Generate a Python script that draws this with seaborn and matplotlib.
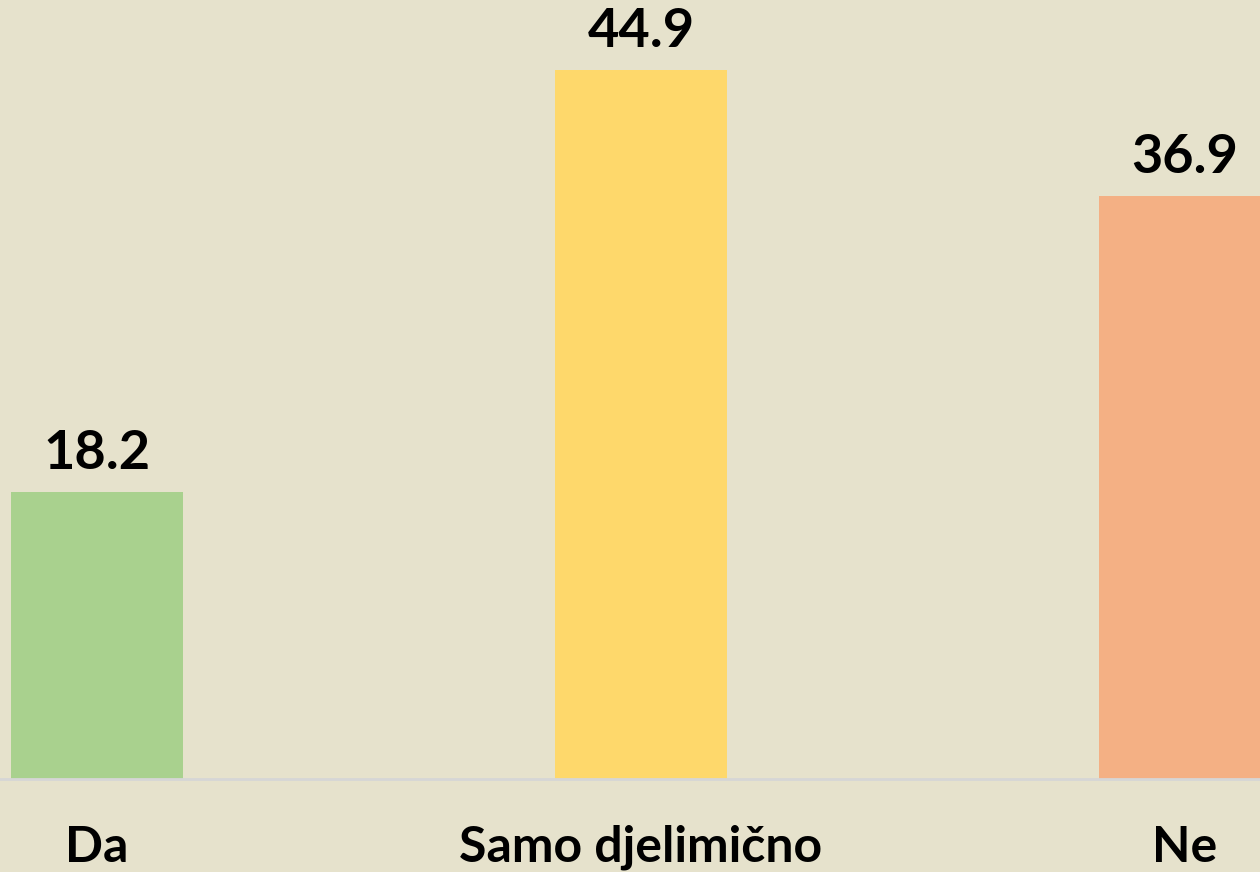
import matplotlib.pyplot as plt
import seaborn as sns
import pandas as pd

# podaci
kategorije = ["Da", "Samo djelimično", "Ne"]
vrijednosti = [18.2, 44.9, 36.9]
boje = ["#A9D18E", "#FED86B", "#F4B084"]

df = pd.DataFrame({"kategorija": kategorije, "vrijednost": vrijednosti})

sns.set_style("white")
plt.rcParams['font.family'] = ['Lato', 'DejaVu Sans']

pozadina = "#E6E2CC"
fig = plt.figure(figsize=(12.6, 8.72), dpi=100, facecolor=pozadina)
ax = fig.add_axes([0, 93 / 872, 1, 779 / 872])
ax.set_facecolor(pozadina)

sns.barplot(data=df, x="kategorija", y="vrijednost", hue="kategorija",
            palette=boje, width=0.316, legend=False, ax=ax, saturation=1,
            linewidth=0)

for c in ax.containers:
    ax.bar_label(c, fmt="%.1f", padding=10, fontsize=39, fontweight="bold", color="black")

ax.set_xlim(-0.178, 2.138)
ax.set_ylim(0, 49.33)
ax.set_xlabel("")
ax.set_ylabel("")
ax.set_yticks([])
ax.tick_params(axis="x", length=0, pad=33, labelsize=36, labelcolor="black")
for t in ax.get_xticklabels():
    t.set_fontweight("bold")
for s in ["top", "right", "left"]:
    ax.spines[s].set_visible(False)
ax.spines["bottom"].set_color("#D6D6D6")
ax.spines["bottom"].set_linewidth(2)

fig.savefig("out.png", dpi=100, facecolor=pozadina)
